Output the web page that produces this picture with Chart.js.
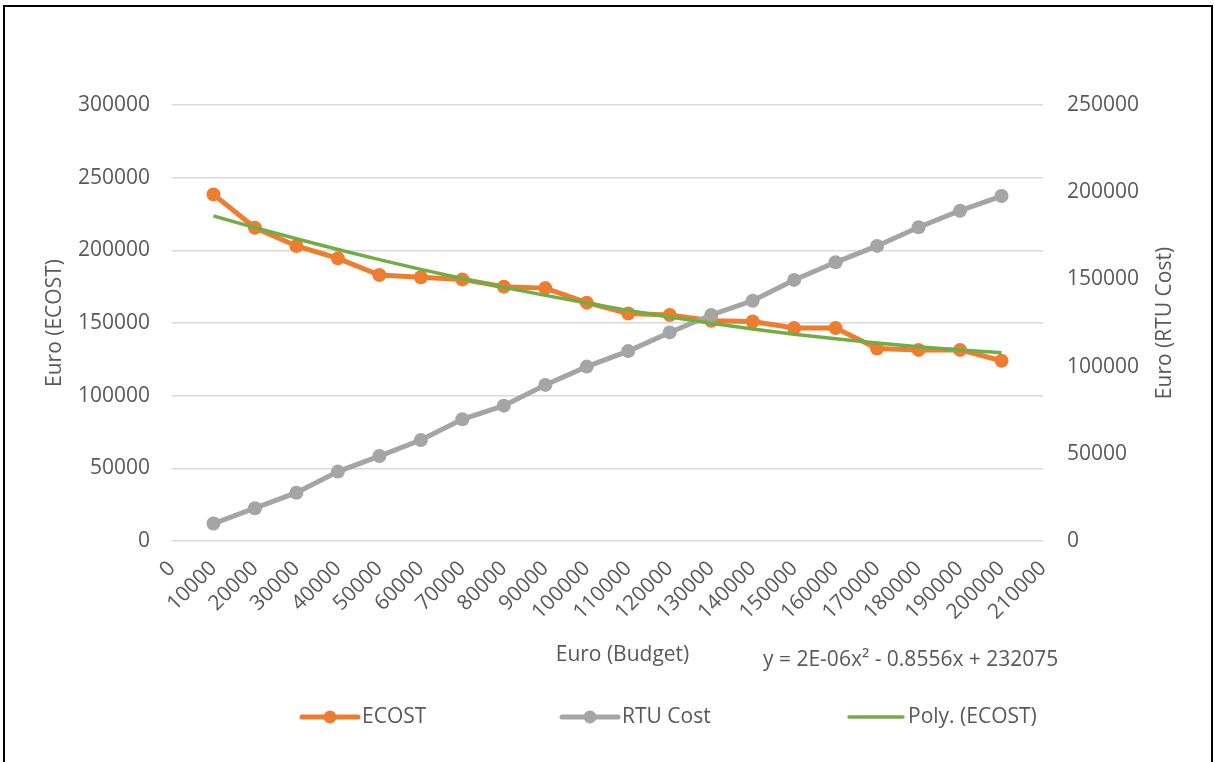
<!DOCTYPE html>
<html>
<head>
<meta charset="utf-8">
<script src="https://cdn.jsdelivr.net/npm/chart.js@4.4.1/dist/chart.umd.min.js"></script>
<style>
  html, body { margin: 0; padding: 0; background: #ffffff; }
  #wrap { position: relative; width: 1214px; height: 762px; overflow: hidden; }
  canvas { display: block; }
</style>
</head>
<body>
<div id="wrap"><canvas id="c" width="1214" height="762"></canvas></div>
<script>
// ---- Data ----
const budget = [10000, 20000, 30000, 40000, 50000, 60000, 70000, 80000, 90000, 100000,
                110000, 120000, 130000, 140000, 150000, 160000, 170000, 180000, 190000, 200000];
const ecost = [238500, 215500, 203000, 194500, 183000, 181500, 180000, 175000, 174000, 164000,
               156500, 155500, 151500, 151000, 146500, 146500, 132500, 131500, 131500, 124000];
const rtuCost = [10000, 18800, 27700, 39800, 48700, 57900, 69800, 77600, 89500, 100000,
                 108900, 119600, 129600, 137800, 149700, 159800, 169200, 179900, 189400, 197800];
const polyEcost = [223700, 215600, 208000, 200600, 193600, 186900, 180600, 174600, 169000, 163700,
                   158700, 154100, 149800, 145900, 142300, 139100, 136200, 133700, 131500, 129600];
const seriesNames = ['ECOST', 'RTU Cost', 'Poly. (ECOST)'];
const xTitle = 'Euro (Budget)';
const yLeftTitle = 'Euro (ECOST)';
const yRightTitle = 'Euro (RTU Cost)';
const trendEquation = 'y = 2E-06x\u00B2 - 0.8556x + 232075';

// ---- Styles ----
const FONT = '"Open Sans", "Noto Sans", sans-serif';
const TEXT = '#595959';
const ORANGE = '#ED7D31', GRAY = '#A5A5A5', GREEN = '#70AD47';

const pts = (ys) => budget.map((x, i) => ({ x: x, y: ys[i] }));

const frameAndExtras = {
  id: 'frameAndExtras',
  beforeDraw(chart) {
    const ctx = chart.ctx;
    ctx.save();
    ctx.fillStyle = '#ffffff';
    ctx.fillRect(0, 0, chart.width, chart.height);
    ctx.restore();
  },
  afterDraw(chart) {
    const ctx = chart.ctx;
    const area = chart.chartArea;
    ctx.save();
    // outer frame
    ctx.strokeStyle = '#000000';
    ctx.lineWidth = 2;
    ctx.strokeRect(4, 6, 1208, 770);
    ctx.fillStyle = TEXT;
    ctx.font = '21px ' + FONT;
    ctx.textBaseline = 'middle';
    // x axis title (Excel places it slightly right of centre)
    ctx.textAlign = 'center';
    ctx.fillText(xTitle, (area.left + area.right) / 2 + 15, 655);
    // right axis title, reading bottom-to-top like Excel
    ctx.save();
    ctx.translate(1165, (area.top + area.bottom) / 2);
    ctx.rotate(-Math.PI / 2);
    ctx.fillText(yRightTitle, 0, 0);
    ctx.restore();
    // trendline equation label
    ctx.textAlign = 'left';
    ctx.fillText(trendEquation, 763, 660);
    // legend
    const items = [
      { x1: 302, x2: 358, tx: 362 },
      { x1: 562, x2: 618, tx: 622 },
      { x1: 849, x2: 903, tx: 908 }
    ];
    const ly = 717;
    chart.data.datasets.forEach((ds, i) => {
      const it = items[i];
      ctx.strokeStyle = ds.borderColor;
      ctx.lineWidth = ds.borderWidth;
      ctx.lineCap = 'round';
      ctx.beginPath();
      ctx.moveTo(it.x1, ly);
      ctx.lineTo(it.x2, ly);
      ctx.stroke();
      if (ds.pointRadius > 0) {
        ctx.fillStyle = ds.pointBackgroundColor;
        ctx.beginPath();
        ctx.arc((it.x1 + it.x2) / 2, ly, 6.5, 0, Math.PI * 2);
        ctx.fill();
      }
      ctx.fillStyle = TEXT;
      ctx.font = '21px ' + FONT;
      ctx.textAlign = 'left';
      ctx.textBaseline = 'middle';
      ctx.fillText(ds.label, it.tx, ly);
    });
    ctx.restore();
  }
};

const plain = (v) => String(v);

new Chart(document.getElementById('c'), {
  type: 'line',
  data: {
    datasets: [
      {
        label: seriesNames[0], data: pts(ecost), yAxisID: 'y',
        borderColor: ORANGE, backgroundColor: ORANGE, pointBackgroundColor: ORANGE,
        pointBorderColor: ORANGE, borderWidth: 5, pointRadius: 7, pointBorderWidth: 0,
        tension: 0, order: 2
      },
      {
        label: seriesNames[1], data: pts(rtuCost), yAxisID: 'y1',
        borderColor: GRAY, backgroundColor: GRAY, pointBackgroundColor: GRAY,
        pointBorderColor: GRAY, borderWidth: 5, pointRadius: 7, pointBorderWidth: 0,
        tension: 0, order: 1
      },
      {
        label: seriesNames[2], data: pts(polyEcost), yAxisID: 'y',
        borderColor: GREEN, backgroundColor: GREEN, pointBackgroundColor: GREEN,
        borderWidth: 3.5, pointRadius: 0, cubicInterpolationMode: 'monotone',
        order: 0
      }
    ]
  },
  options: {
    responsive: false,
    animation: false,
    devicePixelRatio: 1,
    layout: { padding: { top: 105, left: 0, right: 0, bottom: 94 } },
    plugins: {
      legend: { display: false },
      tooltip: { enabled: false }
    },
    scales: {
      x: {
        type: 'linear', min: 0, max: 210000,
        grid: { display: false, drawTicks: false },
        border: { display: false },
        ticks: {
          stepSize: 10000, autoSkip: false, minRotation: 45, maxRotation: 45,
          color: TEXT, font: { family: FONT, size: 21 }, padding: 15,
          callback: plain
        },
        title: { display: false, text: xTitle },
        afterFit(s) { s.height = 127; }
      },
      y: {
        type: 'linear', position: 'left', min: 0, max: 300000,
        grid: { color: '#D9D9D9', lineWidth: 1.5, drawTicks: false },
        border: { display: false },
        ticks: {
          stepSize: 50000, color: TEXT, font: { family: FONT, size: 21 }, padding: 22,
          callback: plain
        },
        title: {
          display: true, text: yLeftTitle, color: TEXT,
          font: { family: FONT, size: 21 }, padding: { top: 42, bottom: 0 }
        },
        afterFit(s) { s.width = 172; }
      },
      y1: {
        type: 'linear', position: 'right', min: 0, max: 250000,
        grid: { drawOnChartArea: false, drawTicks: false },
        border: { display: false },
        ticks: {
          stepSize: 50000, color: TEXT, font: { family: FONT, size: 21 }, padding: 24,
          callback: plain
        },
        title: { display: false, text: yRightTitle },
        afterFit(s) { s.width = 171; }
      }
    }
  },
  plugins: [frameAndExtras]
});
</script>
</body>
</html>
